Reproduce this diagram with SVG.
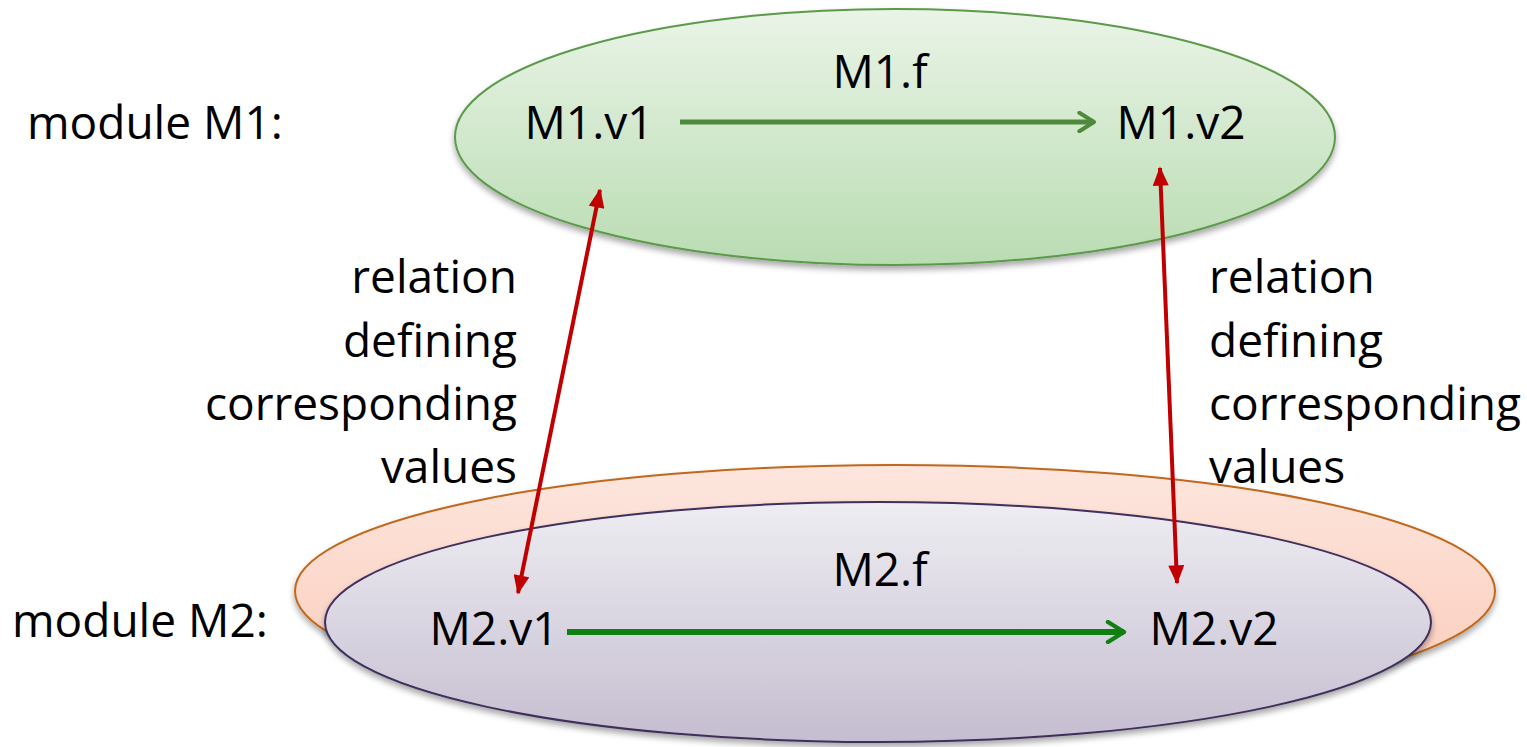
<svg xmlns="http://www.w3.org/2000/svg" width="1527" height="747" viewBox="0 0 1527 747">
  <defs>
    <linearGradient id="gGreen" x1="0" y1="0" x2="0" y2="1">
      <stop offset="0" stop-color="#eaf4e7"/>
      <stop offset="1" stop-color="#b9dcb2"/>
    </linearGradient>
    <linearGradient id="gOrange" x1="0" y1="0" x2="0" y2="1">
      <stop offset="0" stop-color="#fde6de"/>
      <stop offset="1" stop-color="#fbcab8"/>
    </linearGradient>
    <linearGradient id="gPurple" x1="0" y1="0" x2="0" y2="1">
      <stop offset="0" stop-color="#eeedf2"/>
      <stop offset="1" stop-color="#c5bdd0"/>
    </linearGradient>
    <filter id="shadow" x="-10%" y="-10%" width="120%" height="130%">
      <feGaussianBlur in="SourceAlpha" stdDeviation="3"/>
      <feOffset dx="0" dy="4" result="b"/>
      <feComponentTransfer><feFuncA type="linear" slope="0.35"/></feComponentTransfer>
      <feMerge><feMergeNode/><feMergeNode in="SourceGraphic"/></feMerge>
    </filter>
    <marker id="redHead" viewBox="0 0 12 10" refX="11" refY="5" markerWidth="5" markerHeight="4" orient="auto-start-reverse" markerUnits="strokeWidth">
      <path d="M0,0 L12,5 L0,10 Z" fill="#c00000"/>
    </marker>
    <marker id="greenHead1" viewBox="0 0 12 12" refX="10" refY="6" markerWidth="4.4" markerHeight="4.4" orient="auto" markerUnits="strokeWidth">
      <path d="M2,1 L10,6 L2,11" fill="none" stroke="#4e8a3c" stroke-width="2.2" stroke-linecap="round" stroke-linejoin="round"/>
    </marker>
    <marker id="greenHead2" viewBox="0 0 12 12" refX="10" refY="6" markerWidth="4" markerHeight="4" orient="auto" markerUnits="strokeWidth">
      <path d="M2,1 L10,6 L2,11" fill="none" stroke="#108010" stroke-width="2.2" stroke-linecap="round" stroke-linejoin="round"/>
    </marker>
  </defs>
  <style>
    .t { font-family: "Open Sans", "Liberation Sans", sans-serif; font-size: 46px; fill: #000000; }
    .r { text-anchor: end; }
    .m { text-anchor: middle; }
    .red { stroke: #c00000; stroke-width: 4; fill: none; }
  </style>

  <g id="label-M1">
    <text class="t" x="27" y="139">module M1:</text>
  </g>
  <g id="label-M2">
    <text class="t" x="12" y="637">module M2:</text>
  </g>

  <g id="module-M1">
    <ellipse cx="895" cy="137" rx="440" ry="128" fill="url(#gGreen)" stroke="#5b9a4a" stroke-width="2" filter="url(#shadow)"/>
    <text class="t m" x="880" y="88">M1.f</text>
  </g>
  <g id="node-M1v1"><text class="t m" x="589" y="139">M1.v1</text></g>
  <g id="node-M1v2"><text class="t m" x="1181" y="139">M1.v2</text></g>

  <g id="module-M2-outer">
    <ellipse cx="895" cy="591" rx="600" ry="126" fill="url(#gOrange)" stroke="#c0681e" stroke-width="2" filter="url(#shadow)"/>
  </g>
  <g id="module-M2">
    <ellipse cx="878" cy="622" rx="553" ry="120" fill="url(#gPurple)" stroke="#3f2f5c" stroke-width="2" filter="url(#shadow)"/>
    <text class="t m" x="880" y="586">M2.f</text>
  </g>
  <g id="node-M2v1"><text class="t m" x="494" y="645">M2.v1</text></g>
  <g id="node-M2v2"><text class="t m" x="1214" y="645">M2.v2</text></g>

  <g id="label-left">
    <text class="t r" x="517" y="293">relation</text>
    <text class="t r" x="517" y="357">defining</text>
    <text class="t r" x="517" y="420">corresponding</text>
    <text class="t r" x="517" y="483">values</text>
  </g>
  <g id="label-right">
    <text class="t" x="1209" y="293">relation</text>
    <text class="t" x="1209" y="357">defining</text>
    <text class="t" x="1209" y="420">corresponding</text>
    <text class="t" x="1209" y="483">values</text>
  </g>

  <g id="connectors">
    <line x1="680" y1="122" x2="1094" y2="122" stroke="#4e8a3c" stroke-width="5" marker-end="url(#greenHead1)"/>
    <line x1="567" y1="632" x2="1124" y2="632" stroke="#108010" stroke-width="6" marker-end="url(#greenHead2)"/>
    <line class="red" x1="600" y1="190" x2="518" y2="593" marker-start="url(#redHead)" marker-end="url(#redHead)"/>
    <line class="red" x1="1160" y1="168" x2="1177" y2="583" marker-start="url(#redHead)" marker-end="url(#redHead)"/>
  </g>
</svg>
